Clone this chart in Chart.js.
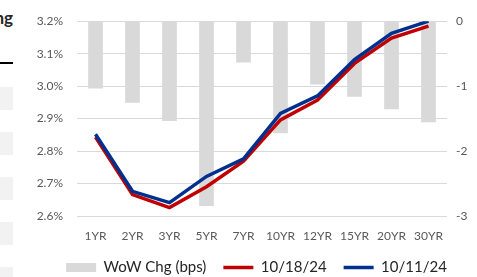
<!DOCTYPE html>
<html>
<head>
<meta charset="utf-8">
<script src="https://cdn.jsdelivr.net/npm/chart.js@4.4.1/dist/chart.umd.min.js"></script>
<style>
  html, body { margin: 0; padding: 0; background: #fff; overflow: hidden; }
  #wrap { position: relative; width: 477px; height: 277px; }
  #chart { position: absolute; left: 0; top: 0; }
  .edge { position: absolute; left: 0; width: 13px; background: #f2f2f2; }
  #title { position: absolute; right: 464px; top: 7px; font: bold 17px Lato, sans-serif; color: #262626; white-space: nowrap; }
  #rule { position: absolute; left: 0; top: 62px; width: 13px; height: 2px; background: #000; }
</style>
</head>
<body>
<div id="wrap">
  <span id="title">WoW Chg</span>
  <div id="rule"></div>
  <div class="edge" style="top:87px;height:23px"></div>
  <div class="edge" style="top:132px;height:23px"></div>
  <div class="edge" style="top:177px;height:23px"></div>
  <div class="edge" style="top:222px;height:23px"></div>
  <div class="edge" style="top:267px;height:10px"></div>
  <canvas id="chart" width="477" height="277"></canvas>
</div>
<script>
const tenors = ['1YR', '2YR', '3YR', '5YR', '7YR', '10YR', '12YR', '15YR', '20YR', '30YR'];
const wowChgBps = [-1.03, -1.25, -1.53, -2.84, -0.63, -1.72, -0.97, -1.16, -1.35, -1.55];
const yield101824 = [2.843, 2.666, 2.626, 2.69, 2.769, 2.896, 2.957, 3.07, 3.148, 3.185];
const yield101124 = [2.852, 2.676, 2.641, 2.722, 2.776, 2.916, 2.97, 3.082, 3.163, 3.2];

const FONT = 'Lato, "Open Sans", sans-serif';
const TICK_COLOR = '#595959';
const GRID_COLOR = '#d9d9d9';

new Chart(document.getElementById('chart'), {
  type: 'bar',
  data: {
    labels: tenors,
    datasets: [
      {
        label: 'WoW Chg (bps)',
        data: wowChgBps,
        yAxisID: 'y2',
        backgroundColor: '#d9d9d9',
        borderWidth: 0,
        barThickness: 14,
        pointStyle: 'rect',
        order: 3
      },
      {
        label: '10/18/24',
        type: 'line',
        data: yield101824,
        yAxisID: 'y',
        borderColor: '#c00000',
        backgroundColor: '#c00000',
        borderWidth: 3.5,
        pointRadius: 0,
        pointStyle: 'line',
        tension: 0,
        fill: false,
        order: 2
      },
      {
        label: '10/11/24',
        type: 'line',
        data: yield101124,
        yAxisID: 'y',
        borderColor: '#00308f',
        backgroundColor: '#00308f',
        borderWidth: 3.5,
        pointRadius: 0,
        pointStyle: 'line',
        tension: 0,
        fill: false,
        order: 1
      }
    ]
  },
  options: {
    responsive: false,
    animation: false,
    layout: {
      // left padding keeps the legend centred under the plot, like the original
      padding: { top: 11, bottom: 0, left: 36, right: 0 }
    },
    scales: {
      x: {
        afterFit: (scale) => { scale.height = 27; },
        grid: { display: false, drawTicks: false },
        border: { display: false },
        ticks: { color: TICK_COLOR, font: { family: FONT, size: 12 }, padding: 13, maxRotation: 0, autoSkip: false }
      },
      y: {
        position: 'left',
        min: 2.6,
        max: 3.2,
        afterFit: (scale) => { scale.width = 41; },
        grid: { color: GRID_COLOR, lineWidth: 1, drawTicks: false },
        border: { display: false },
        ticks: {
          stepSize: 0.1,
          padding: 14,
          color: TICK_COLOR,
          font: { family: FONT, size: 12 },
          callback: (v) => v.toFixed(1) + '%'
        }
      },
      y2: {
        position: 'right',
        min: -3,
        max: 0,
        afterFit: (scale) => { scale.width = 30; },
        grid: { display: false, drawTicks: false },
        border: { display: false },
        ticks: { stepSize: 1, padding: 9, color: TICK_COLOR, font: { family: FONT, size: 12 } }
      }
    },
    plugins: {
      tooltip: { enabled: false },
      legend: {
        position: 'bottom',
        maxHeight: 34,
        labels: {
          usePointStyle: true,
          pointStyleWidth: 30,
          boxHeight: 9,
          padding: 17,
          color: '#262626',
          font: { family: FONT, size: 15 },
          sort: (a, b) => a.datasetIndex - b.datasetIndex
        }
      }
    }
  }
});
</script>
</body>
</html>
